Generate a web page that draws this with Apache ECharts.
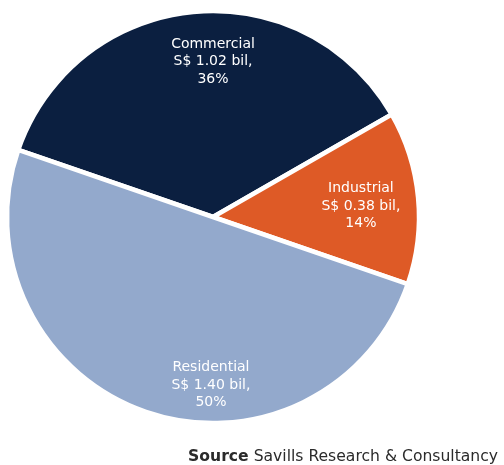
<!DOCTYPE html>
<html>
<head>
<meta charset="utf-8">
<script src="https://cdn.jsdelivr.net/npm/echarts@6/dist/echarts.min.js"></script>
<style>html,body{margin:0;padding:0;background:#fff;}#c{width:504px;height:465px;}</style>
</head>
<body>
<div id="c"></div>
<script>
var categories = ['Commercial', 'Industrial', 'Residential'];
var values = [1.02, 0.38, 1.40];
var percentLabels = ['36%', '14%', '50%'];
var colors = ['#0b1f40', '#de5a26', '#93a9cc'];
var sourceLabel = 'Source';
var sourceText = 'Savills Research & Consultancy';

var CX = 213, CY = 217, R = 206;
// label anchor: angle (deg) and radial fraction, per slice
var labelAnchors = [[90, 0.755], [4.2, 0.72], [-90.7, 0.815]];

var data = categories.map(function (c, i) {
  return { name: c, value: values[i], itemStyle: { color: colors[i] } };
});

var chart = echarts.init(document.getElementById('c'), null, { renderer: 'canvas' });
chart.setOption({
  animation: false,
  backgroundColor: '#ffffff',
  title: {
    right: 1, top: 444,
    text: '{b|' + sourceLabel + '} ' + sourceText,
    textStyle: {
      fontFamily: 'DejaVu Sans', fontSize: 15.6, fontWeight: 'normal', color: '#2b2b2b',
      rich: { b: { fontFamily: 'DejaVu Sans', fontSize: 15.6, fontWeight: 'bold', color: '#2b2b2b' } }
    }
  },
  series: [{
    type: 'pie',
    center: [CX, CY],
    radius: [0, R],
    startAngle: 161,
    clockwise: true,
    avoidLabelOverlap: false,
    data: data,
    itemStyle: { borderColor: '#ffffff', borderWidth: 4.5 },
    label: {
      position: 'inside',
      color: '#ffffff',
      fontFamily: 'DejaVu Sans',
      fontSize: 14,
      lineHeight: 17.5,
      align: 'center',
      formatter: function (p) {
        return p.name + '\nS$ ' + p.value.toFixed(2) + ' bil,\n' + percentLabels[p.dataIndex];
      }
    },
    labelLine: { show: false },
    labelLayout: function (p) {
      var a = labelAnchors[p.dataIndex];
      var rad = a[0] * Math.PI / 180;
      return {
        x: CX + a[1] * R * Math.cos(rad),
        y: CY - a[1] * R * Math.sin(rad),
        align: 'center',
        verticalAlign: 'middle'
      };
    },
    emphasis: { disabled: true }
  }]
});
</script>
</body>
</html>
